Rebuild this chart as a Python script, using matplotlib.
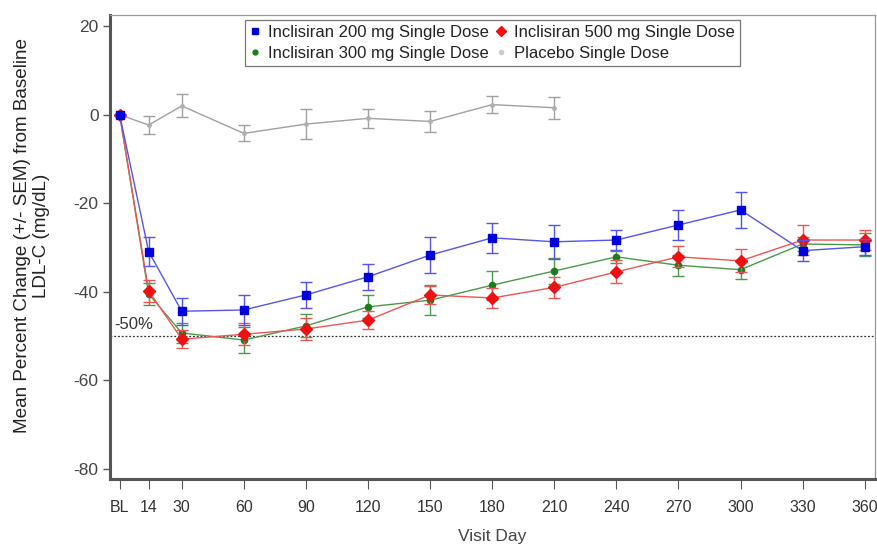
import matplotlib
matplotlib.use("Agg")
import matplotlib.pyplot as plt
from matplotlib.lines import Line2D

plt.rcParams['font.family'] = ['Liberation Sans', 'DejaVu Sans']

days = [0, 14, 30, 60, 90, 120, 150, 180, 210, 240, 270, 300, 330, 360]
tick_labels = ["BL", "14", "30", "60", "90", "120", "150", "180", "210", "240", "270", "300", "330", "360"]

inc200 = [0, -30.9, -44.4, -44.1, -40.7, -36.6, -31.7, -27.8, -28.7, -28.3, -24.9, -21.5, -30.7, -29.8]
inc200_sem = [0, 3.3, 3.1, 3.4, 2.9, 2.9, 4.0, 3.4, 3.8, 2.3, 3.3, 4.1, 2.3, 1.8]

inc300 = [0, -40.5, -49.3, -50.9, -47.7, -43.4, -41.9, -38.5, -35.3, -32.1, -34.0, -35.0, -29.2, -29.4]
inc300_sem = [0, 2.5, 2.3, 3.0, 2.6, 2.6, 3.4, 3.3, 3.0, 1.3, 2.4, 2.1, 1.6, 2.6]

inc500 = [0, -39.8, -50.7, -49.6, -48.4, -46.4, -40.7, -41.4, -39.0, -35.5, -32.1, -33.0, -28.3, -28.3]
inc500_sem = [0, 2.4, 2.0, 2.5, 2.5, 2.0, 2.0, 2.3, 2.3, 2.6, 2.4, 2.6, 3.4, 2.3]

pbo_days = [0, 14, 30, 60, 90, 120, 150, 180, 210]
placebo = [0, -2.3, 2.0, -4.2, -2.1, -0.8, -1.5, 2.3, 1.6]
placebo_sem = [0, 2.0, 2.6, 1.8, 3.4, 2.1, 2.3, 1.9, 2.5]

labels = ['Inclisiran 200 mg Single Dose', 'Inclisiran 300 mg Single Dose',
          'Inclisiran 500 mg Single Dose', 'Placebo Single Dose']

fig = plt.figure(figsize=(8.78, 5.44), dpi=100)
ax = fig.add_axes([0.125, 0.1195, 0.8716, 0.8525])

def series(x, y, e, color, lcolor, marker, ms, z):
    ax.errorbar(x, y, yerr=e, color=lcolor, ecolor=lcolor, elinewidth=1.0,
                capsize=4, capthick=1.0, lw=1.0, marker=marker, ms=ms,
                mfc=color, mec=color, zorder=z)

series(pbo_days, placebo, placebo_sem, '#b0b0b0', '#a0a0a0', 'o', 2.5, 2)
series(days, inc300, inc300_sem, '#1f7a1f', '#4a9a4a', 'o', 4.5, 3)
series(days, inc500, inc500_sem, '#ee1111', '#ee5555', 'D', 6, 4)
series(days, inc200, inc200_sem, '#0000dd', '#5555ee', 's', 5.5, 5)

ax.axhline(-50, color='#333333', lw=0.9, ls=(0, (1.5, 1.5)), zorder=1)
ax.text(-2.5, -49.0, '-50%', fontsize=12, color='#333333', va='bottom', ha='left')

ax.set_xlim(-4.8, 365)
ax.set_ylim(-82.3, 22.5)
ax.set_xticks(days)
ax.set_xticklabels(tick_labels, fontsize=11.5, color='#333333')
ax.set_yticks([20, 0, -20, -40, -60, -80])
ax.set_yticklabels(['20', '0', '-20', '-40', '-60', '-80'], fontsize=12.5, color='#444444')
ax.tick_params(axis='x', length=7, width=0.8, color='#555555', pad=8)
ax.tick_params(axis='y', length=5, width=1.0, color='#555555', pad=3)

for s in ['left', 'bottom']:
    ax.spines[s].set_linewidth(2.2)
    ax.spines[s].set_color('#555555')
for s in ['top', 'right']:
    ax.spines[s].set_linewidth(0.9)
    ax.spines[s].set_color('#999999')

ax.set_xlabel('Visit Day', fontsize=12.5, color='#444444', labelpad=10)
ax.set_ylabel('Mean Percent Change (+/- SEM) from Baseline\nLDL-C (mg/dL)', fontsize=13.6,
              color='#222222', linespacing=1.15)
ax.yaxis.set_label_coords(-0.078, 0.524)

handles = [
    Line2D([], [], ls='', marker='s', ms=5, mfc='#0000dd', mec='#0000dd'),
    Line2D([], [], ls='', marker='o', ms=3.5, mfc='#1f7a1f', mec='#1f7a1f'),
    Line2D([], [], ls='', marker='D', ms=5, mfc='#ee1111', mec='#ee1111'),
    Line2D([], [], ls='', marker='o', ms=3, mfc='#cccccc', mec='#cccccc'),
]
leg = ax.legend(handles, labels, ncol=2, loc='upper center', bbox_to_anchor=(0.5, 0.99),
                fontsize=12, frameon=True, fancybox=False, handlelength=0.6,
                handletextpad=0.5, columnspacing=0.4, borderpad=0.3, labelspacing=0.35,
                borderaxespad=0.0)
leg.get_frame().set_edgecolor('#555555')
leg.get_frame().set_linewidth(0.9)
for t in leg.get_texts():
    t.set_color('#222222')

fig.savefig('out.png', dpi=100)
